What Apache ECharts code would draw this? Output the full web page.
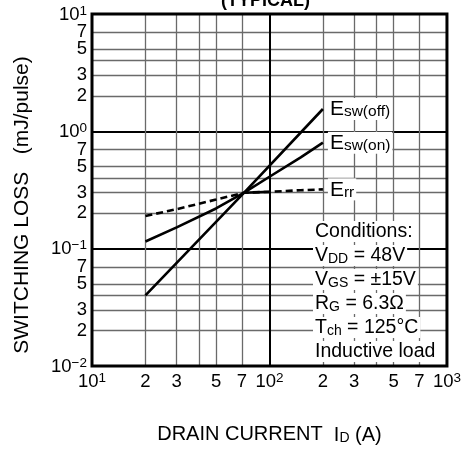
<!DOCTYPE html>
<html>
<head>
<meta charset="utf-8">
<script src="https://cdn.jsdelivr.net/npm/echarts@6/dist/echarts.min.js"></script>
<style>
  html, body { margin: 0; padding: 0; background: #fff; }
  #chart { width: 464px; height: 450px; }
</style>
</head>
<body>
<div id="chart"></div>
<script>
// drain current (A) and switching loss (mJ/pulse)
var offX = [20, 72, 200];
var offY = [0.04, 0.3, 1.55];
var onX = [20, 30, 50, 72, 100, 150, 200];
var onY = [0.115, 0.152, 0.22, 0.3, 0.41, 0.6, 0.8];
var errX = [20, 30, 50, 72, 100, 150, 200];
var errY = [0.19, 0.217, 0.262, 0.3, 0.305, 0.315, 0.32];
var errSolidX = [72, 100];
var errSolidY = [0.3, 0.305];

// grid lines / tick labels
var xMajor = [10, 100, 1000];
var xMinor = [20, 30, 40, 50, 70, 200, 300, 400, 500, 700];
var xMinorLabels = [20, 30, 50, 70, 200, 300, 500, 700];
var yMajor = [0.01, 0.1, 1, 10];
var yMinor = [0.02, 0.03, 0.04, 0.05, 0.07, 0.2, 0.3, 0.4, 0.5, 0.7, 2, 3, 4, 5, 7];
var yMinorLabels = [0.02, 0.03, 0.05, 0.07, 0.2, 0.3, 0.5, 0.7, 2, 3, 5];
var yTopLabels = [7];   // own axis so it isn't dropped next to the 10^1 label

var conditions = [
  '{t|Conditions:}',
  '{t|V}{s|DD}{t| = 48V}',
  '{t|V}{s|GS}{t| = \u00b115V}',
  '{t|R}{s|G}{t| = 6.3\u03a9}',
  '{t|T}{s|ch}{t| = 125\u00b0C}',
  '{t|Inductive load}'
];

var FONT = 'Liberation Sans, Arial, Helvetica, sans-serif';

function zip(xs, ys) {
  return xs.map(function (x, i) { return [x, ys[i]]; });
}

function logLabel(v) {
  var e = Math.round(Math.log10(v));
  if (Math.abs(v / Math.pow(10, e) - 1) < 1e-6) {
    var sup = e < 0 ? '\u2212' + (-e) : String(e);
    return '{b|10}{p|' + sup + '}';
  }
  var d = Math.round(v / Math.pow(10, Math.floor(Math.log10(v) + 1e-9)));
  return '{m|' + d + '}';
}

var labelRich = {
  m: { fontSize: 18.5, fontFamily: FONT, color: '#000', lineHeight: 14, verticalAlign: 'middle' },
  b: { fontSize: 18.5, fontFamily: FONT, color: '#000', lineHeight: 14, verticalAlign: 'bottom' },
  p: { fontSize: 13.5, fontFamily: FONT, color: '#000', verticalAlign: 'top', padding: [0, 0, 6, 0] }
};

var endRich = {
  e: { fontSize: 21, fontFamily: FONT, color: '#000', verticalAlign: 'bottom', lineHeight: 22 },
  s: { fontSize: 15.5, fontFamily: FONT, color: '#000', verticalAlign: 'bottom', lineHeight: 19 }
};

function endLabel(txt) {
  return {
    show: true,
    formatter: txt,
    rich: endRich,
    distance: 5,
    backgroundColor: '#fff',
    padding: [0, 2, 0, 2]
  };
}

var chart = echarts.init(document.getElementById('chart'), null, { renderer: 'canvas' });

var condRich = {
  t: { fontSize: 19.5, fontFamily: FONT, fill: '#000', verticalAlign: 'bottom', lineHeight: 21 },
  s: { fontSize: 14, fontFamily: FONT, fill: '#000', verticalAlign: 'bottom', lineHeight: 18 }
};
var condY = [232, 256, 280, 304, 328, 352];
var graphics = conditions.map(function (txt, i) {
  return {
    type: 'text',
    left: 313,
    top: condY[i] - 11,
    z: 100,
    style: {
      text: txt,
      rich: condRich,
      backgroundColor: '#fff',
      padding: [0, 2, 0, 2]
    }
  };
});
graphics.push({
  type: 'text',
  left: 221,
  top: -8,
  style: { text: '(TYPICAL)', font: 'bold 18px ' + FONT, fill: '#000' }
});

function tickLabel(values, margin) {
  return {
    customValues: values, margin: margin,
    formatter: logLabel, rich: labelRich,
    hideOverlap: false, showMinLabel: true, showMaxLabel: true
  };
}

var option = {
  backgroundColor: '#fff',
  animation: false,
  grid: {
    left: 92, top: 14, right: 16, bottom: 81,
    show: true, borderColor: '#000', borderWidth: 3, backgroundColor: 'transparent', z: 10
  },
  graphic: graphics,
  xAxis: [{
    type: 'log', logBase: 10, min: 10, max: 1000, position: 'bottom',
    name: 'DRAIN CURRENT  {i|I}{d|D}{i| (A)}',
    nameLocation: 'middle', nameGap: 57,
    nameTextStyle: {
      fontSize: 20, fontFamily: FONT, color: '#000',
      rich: {
        i: { fontSize: 20, fontFamily: FONT, color: '#000', verticalAlign: 'bottom', lineHeight: 22 },
        d: { fontSize: 14, fontFamily: FONT, color: '#000', verticalAlign: 'bottom', lineHeight: 19 }
      }
    },
    axisLine: { show: false },
    axisTick: { show: false, customValues: xMinor },
    axisLabel: tickLabel(xMinorLabels, 9),
    splitLine: { show: true, lineStyle: { color: '#6a6a6a', width: 1.3 } }
  }, {
    type: 'log', logBase: 10, min: 10, max: 1000, position: 'bottom',
    axisLine: { show: false },
    axisTick: { show: false, customValues: xMajor },
    axisLabel: tickLabel(xMajor, 5),
    splitLine: { show: true, lineStyle: { color: '#000', width: 2 } }
  }],
  yAxis: [{
    type: 'log', logBase: 10, min: 0.01, max: 10, position: 'left',
    name: 'SWITCHING LOSS   (mJ/pulse)',
    nameLocation: 'middle', nameGap: 59, nameRotate: 90,
    nameTextStyle: { fontSize: 21, fontFamily: FONT, color: '#000', padding: [0, 30, 0, 0] },
    axisLine: { show: false },
    axisTick: { show: false, customValues: yMinor },
    axisLabel: tickLabel(yMinorLabels, 5),
    splitLine: { show: true, lineStyle: { color: '#6a6a6a', width: 1.3 } }
  }, {
    type: 'log', logBase: 10, min: 0.01, max: 10, position: 'left',
    axisLine: { show: false },
    axisTick: { show: false, customValues: yMajor },
    axisLabel: tickLabel(yMajor, 5),
    splitLine: { show: true, lineStyle: { color: '#000', width: 2 } }
  }, {
    type: 'log', logBase: 10, min: 0.01, max: 10, position: 'left',
    axisLine: { show: false },
    axisTick: { show: false, customValues: yTopLabels },
    axisLabel: tickLabel(yTopLabels, 5),
    splitLine: { show: false }
  }],
  series: [{
    name: 'Esw(off)', type: 'line', data: zip(offX, offY),
    showSymbol: false, symbol: 'none', z: 5,
    lineStyle: { color: '#000', width: 2.6 },
    endLabel: endLabel('{e|E}{s|sw(off)}')
  }, {
    name: 'Esw(on)', type: 'line', data: zip(onX, onY),
    showSymbol: false, symbol: 'none', z: 5,
    lineStyle: { color: '#000', width: 2.6 },
    endLabel: endLabel('{e|E}{s|sw(on)}')
  }, {
    name: 'Err', type: 'line', data: zip(errX, errY),
    showSymbol: false, symbol: 'none', z: 5,
    lineStyle: { color: '#000', width: 2.6, type: [7, 4] },
    endLabel: endLabel('{e|E}{s|rr}')
  }, {
    name: 'Err', type: 'line', data: zip(errSolidX, errSolidY),
    showSymbol: false, symbol: 'none', z: 5,
    lineStyle: { color: '#000', width: 2.6 }
  }]
};

chart.setOption(option);
</script>
</body>
</html>
